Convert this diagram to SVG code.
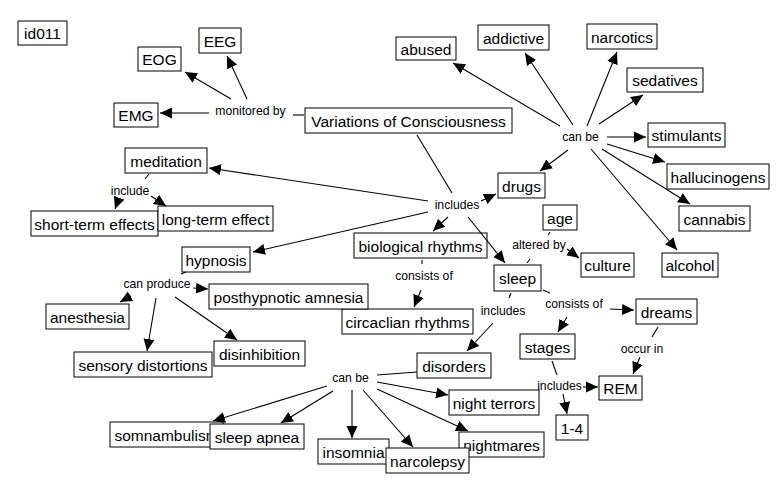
<svg xmlns="http://www.w3.org/2000/svg" width="782" height="493" viewBox="0 0 782 493">
<style>
.n rect{fill:#fff;stroke:#000;stroke-width:1}
.n text{font-family:"Liberation Sans",Arial,sans-serif;font-size:15.5px;fill:#000;text-anchor:middle}
.l text{font-family:"Liberation Sans",Arial,sans-serif;font-size:12.2px;fill:#000;text-anchor:middle}
#connectors line{stroke:#000;stroke-width:1.1;fill:none}
#connectors line.a{marker-end:url(#arr)}
</style>
<defs>
<marker id="arr" viewBox="0 0 12 12" refX="12" refY="6" markerWidth="12" markerHeight="12" markerUnits="userSpaceOnUse" orient="auto">
<path d="M0,0.5 L12,6 L0,11.5 z" fill="#000"/>
</marker>
</defs>
<rect width="782" height="493" fill="#fff"/>

<g id="nodes">
<g id="n-id011" class="n"><rect x="18" y="21" width="49" height="24"/><text x="42.5" y="39">id011</text></g>
<g id="n-eeg" class="n"><rect x="199" y="28" width="42" height="25"/><text x="220" y="46.5">EEG</text></g>
<g id="n-eog" class="n"><rect x="138" y="47" width="43" height="24"/><text x="159.5" y="65">EOG</text></g>
<g id="n-emg" class="n"><rect x="114" y="103" width="44" height="24"/><text x="136" y="121">EMG</text></g>
<g id="n-variations" class="n"><rect x="305" y="108" width="207" height="25"/><text x="408.5" y="126.5">Variations of Consciousness</text></g>
<g id="n-meditation" class="n"><rect x="125" y="148" width="82" height="25"/><text x="166" y="166.5">meditation</text></g>
<g id="n-short" class="n"><rect x="31" y="211" width="127" height="25"/><text x="94.5" y="229.5">short-term effects</text></g>
<g id="n-long" class="n"><rect x="158" y="206" width="115" height="25"/><text x="215.5" y="224.5">long-term effect</text></g>
<g id="n-abused" class="n"><rect x="396" y="37" width="60" height="23"/><text x="426" y="54.5">abused</text></g>
<g id="n-addictive" class="n"><rect x="478" y="25" width="71" height="25"/><text x="513.5" y="43.5">addictive</text></g>
<g id="n-narcotics" class="n"><rect x="587" y="24" width="70" height="25"/><text x="622" y="42.5">narcotics</text></g>
<g id="n-sedatives" class="n"><rect x="627" y="68" width="76" height="24"/><text x="665" y="86">sedatives</text></g>
<g id="n-stimulants" class="n"><rect x="648" y="123" width="77" height="24"/><text x="686.5" y="141">stimulants</text></g>
<g id="n-hallucinogens" class="n"><rect x="667" y="164" width="102" height="25"/><text x="718" y="182.5">hallucinogens</text></g>
<g id="n-cannabis" class="n"><rect x="679" y="206" width="71" height="25"/><text x="714.5" y="224.5">cannabis</text></g>
<g id="n-alcohol" class="n"><rect x="662" y="253" width="56" height="24"/><text x="690" y="271">alcohol</text></g>
<g id="n-drugs" class="n"><rect x="498" y="173" width="47" height="25"/><text x="521.5" y="191.5">drugs</text></g>
<g id="n-age" class="n"><rect x="543" y="205" width="34" height="25"/><text x="560" y="223.5">age</text></g>
<g id="n-culture" class="n"><rect x="581" y="253" width="53" height="24"/><text x="607.5" y="271">culture</text></g>
<g id="n-sleep" class="n"><rect x="494" y="265" width="47" height="26"/><text x="517.5" y="284">sleep</text></g>
<g id="n-bio" class="n"><rect x="354" y="233" width="133" height="25"/><text x="420.5" y="251.5">biological rhythms</text></g>
<g id="n-circ" class="n"><rect x="342" y="309" width="131" height="25"/><text x="407.5" y="327.5">circaclian rhythms</text></g>
<g id="n-hypnosis" class="n"><rect x="182" y="247" width="68" height="25"/><text x="216" y="265.5">hypnosis</text></g>
<g id="n-posthyp" class="n"><rect x="209" y="284" width="159" height="25"/><text x="288.5" y="302.5">posthypnotic amnesia</text></g>
<g id="n-anesthesia" class="n"><rect x="46" y="304" width="83" height="25"/><text x="87.5" y="322.5">anesthesia</text></g>
<g id="n-sensory" class="n"><rect x="74" y="352" width="138" height="25"/><text x="143" y="370.5">sensory distortions</text></g>
<g id="n-disinhibition" class="n"><rect x="214" y="341" width="91" height="25"/><text x="259.5" y="359.5">disinhibition</text></g>
<g id="n-dreams" class="n"><rect x="636" y="299" width="61" height="25"/><text x="666.5" y="317.5">dreams</text></g>
<g id="n-stages" class="n"><rect x="520" y="334" width="55" height="25"/><text x="547.5" y="352.5">stages</text></g>
<g id="n-disorders" class="n"><rect x="417" y="353" width="74" height="25"/><text x="454" y="371.5">disorders</text></g>
<g id="n-rem" class="n"><rect x="599" y="376" width="43" height="24"/><text x="620.5" y="394">REM</text></g>
<g id="n-14" class="n"><rect x="556" y="415" width="32" height="25"/><text x="572" y="433.5">1-4</text></g>
<g id="n-nightterrors" class="n"><rect x="449" y="390" width="90" height="25"/><text x="494" y="408.5">night terrors</text></g>
<g id="n-nightmares" class="n"><rect x="459" y="432" width="85" height="25"/><text x="501.5" y="450.5">nightmares</text></g>
<g id="n-insomnia" class="n"><rect x="318" y="439" width="71" height="25"/><text x="353.5" y="457.5">insomnia</text></g>
<g id="n-narcolepsy" class="n"><rect x="386" y="448" width="83" height="25"/><text x="427.5" y="466.5">narcolepsy</text></g>
<g id="n-somnambulism" class="n"><rect x="110" y="422" width="113" height="25"/><text x="166.5" y="440.5">somnambulism</text></g>
<g id="n-sleepapnea" class="n"><rect x="210" y="424" width="94" height="25"/><text x="257" y="442.5">sleep apnea</text></g>
</g>

<g id="labels">
<g id="l-monitored" class="l"><text x="250.5" y="114.5">monitored by</text></g>
<g id="l-include" class="l"><text x="130" y="195">include</text></g>
<g id="l-canbe1" class="l"><text x="580.5" y="141">can be</text></g>
<g id="l-includes1" class="l"><text x="457" y="209">includes</text></g>
<g id="l-altered" class="l"><text x="539" y="249">altered by</text></g>
<g id="l-consists1" class="l"><text x="424" y="280">consists of</text></g>
<g id="l-includes2" class="l"><text x="503" y="315">includes</text></g>
<g id="l-consists2" class="l"><text x="574" y="308">consists of</text></g>
<g id="l-occur" class="l"><text x="642" y="353">occur in</text></g>
<g id="l-includes3" class="l"><text x="559.5" y="390">includes</text></g>
<g id="l-canproduce" class="l"><text x="157" y="288">can produce</text></g>
<g id="l-canbe2" class="l"><text x="350.5" y="382">can be</text></g>
</g>

<g id="connectors">
<line x1="293" y1="115" x2="304" y2="115"/>
<line x1="149" y1="174" x2="145" y2="179"/>
<line x1="417" y1="135" x2="452" y2="193"/>
<line x1="422" y1="260" x2="422" y2="264"/>
<line x1="550" y1="232" x2="548" y2="235"/>
<line x1="527" y1="263" x2="530" y2="259"/>
<line x1="511" y1="293" x2="509" y2="298"/>
<line x1="543" y1="290" x2="550" y2="293"/>
<line x1="658" y1="327" x2="652" y2="337"/>
<line x1="552" y1="361" x2="557" y2="375"/>
<line x1="181" y1="274" x2="186" y2="272"/>
<line x1="417" y1="372" x2="377" y2="375"/>

<line class="a" x1="247" y1="99" x2="227" y2="56"/>
<line class="a" x1="231" y1="99" x2="185" y2="72"/>
<line class="a" x1="209" y1="113" x2="160" y2="113"/>
<line class="a" x1="119" y1="198" x2="115" y2="209"/>
<line class="a" x1="151" y1="196" x2="166" y2="206"/>
<line class="a" x1="560" y1="126" x2="453" y2="63"/>
<line class="a" x1="573" y1="125" x2="525" y2="53"/>
<line class="a" x1="587" y1="126" x2="617" y2="52"/>
<line class="a" x1="599" y1="124" x2="643" y2="95"/>
<line class="a" x1="607" y1="137" x2="646" y2="137"/>
<line class="a" x1="607" y1="144" x2="665" y2="162"/>
<line class="a" x1="602" y1="149" x2="690" y2="204"/>
<line class="a" x1="591" y1="149" x2="677" y2="250"/>
<line class="a" x1="568" y1="150" x2="540" y2="171"/>
<line class="a" x1="481" y1="201" x2="496" y2="194"/>
<line class="a" x1="428" y1="201" x2="209" y2="168"/>
<line class="a" x1="428" y1="212" x2="253" y2="252"/>
<line class="a" x1="448" y1="217" x2="433" y2="231"/>
<line class="a" x1="468" y1="217" x2="505" y2="263"/>
<line class="a" x1="421" y1="290" x2="414" y2="307"/>
<line class="a" x1="567" y1="249" x2="579" y2="258"/>
<line class="a" x1="493" y1="323" x2="467" y2="351"/>
<line class="a" x1="567" y1="317" x2="558" y2="332"/>
<line class="a" x1="610" y1="309" x2="634" y2="310"/>
<line class="a" x1="640" y1="357" x2="633" y2="374"/>
<line class="a" x1="583" y1="387" x2="598" y2="387"/>
<line class="a" x1="563" y1="394" x2="567" y2="414"/>
<line class="a" x1="131" y1="296" x2="120" y2="302"/>
<line class="a" x1="193" y1="288" x2="208" y2="289"/>
<line class="a" x1="156" y1="298" x2="147" y2="351"/>
<line class="a" x1="175" y1="297" x2="237" y2="340"/>
<line class="a" x1="377" y1="382" x2="448" y2="395"/>
<line class="a" x1="377" y1="389" x2="468" y2="431"/>
<line class="a" x1="363" y1="390" x2="413" y2="447"/>
<line class="a" x1="352" y1="390" x2="352" y2="438"/>
<line class="a" x1="333" y1="391" x2="281" y2="423"/>
<line class="a" x1="327" y1="386" x2="213" y2="421"/>
</g>
</svg>
